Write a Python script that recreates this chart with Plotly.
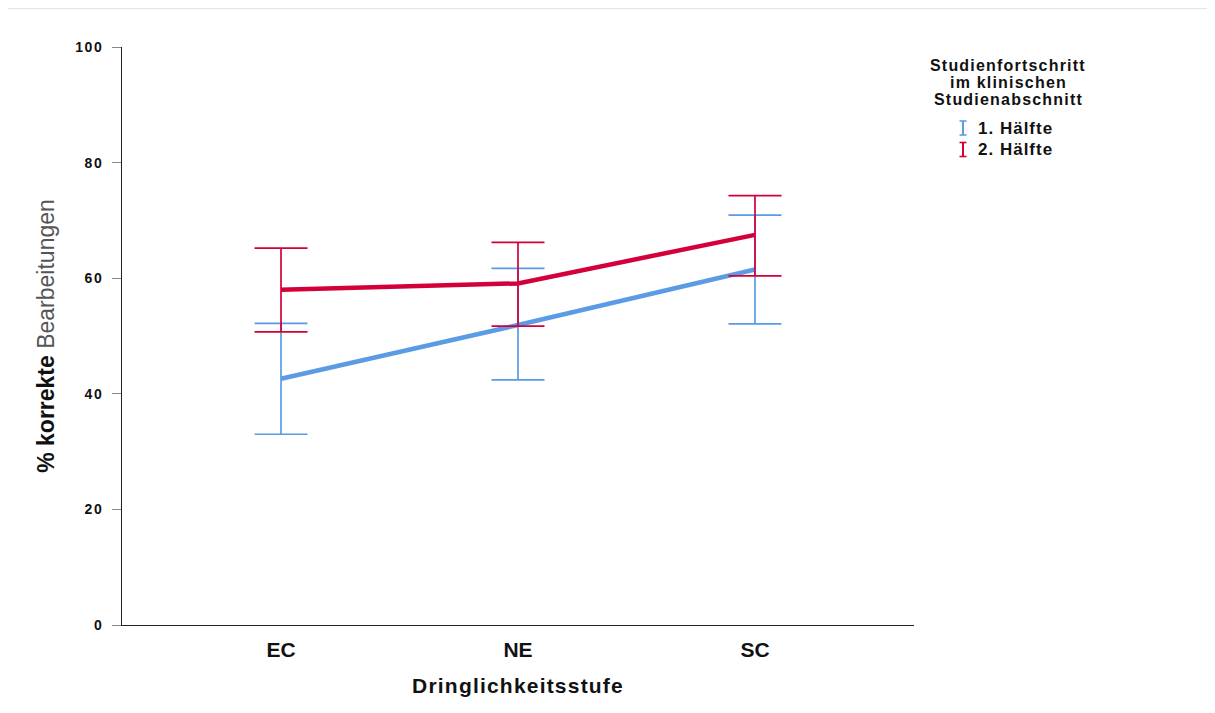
import plotly.graph_objects as go

categories = ["EC", "NE", "SC"]
series_names = ["1. Hälfte", "2. Hälfte"]
mean_1 = [42.6, 51.9, 61.5]
upper_1 = [52.2, 61.7, 70.9]
lower_1 = [33.0, 42.4, 52.1]
mean_2 = [58.0, 59.1, 67.5]
upper_2 = [65.2, 66.2, 74.3]
lower_2 = [50.7, 51.7, 60.4]
y_ticks = [0, 20, 40, 60, 80, 100]
legend_title_lines = ["Studienfortschritt", "im klinischen", "Studienabschnitt"]
x_title = "Dringlichkeitsstufe"

colors = ["#5B9BE6", "#D4003A"]
FONT = "Liberation Sans"


def spaced(s, px):
    return "<span style='letter-spacing:%spx'>%s</span>" % (px, s)


fig = go.Figure()
for name, m, up, lo, c in [
    (series_names[0], mean_1, upper_1, lower_1, colors[0]),
    (series_names[1], mean_2, upper_2, lower_2, colors[1]),
]:
    fig.add_trace(go.Scatter(
        x=categories, y=m, name=name, mode="lines",
        line=dict(color=c, width=4.5),
        error_y=dict(type="data", symmetric=False,
                     array=[u - v for u, v in zip(up, m)],
                     arrayminus=[v - l for v, l in zip(m, lo)],
                     color=c, thickness=1.7, width=26.5),
        showlegend=False,
    ))

W, H = 1199, 697
fig.update_layout(
    width=W, height=H,
    margin=dict(l=114, r=293, t=39, b=80),
    paper_bgcolor="white", plot_bgcolor="white",
    showlegend=False,
    font=dict(family=FONT, color="#111"),
)
fig.update_xaxes(
    type="category", range=[-0.671, 2.671],
    showline=True, linecolor="#222", linewidth=1,
    showgrid=False, ticks="", ticklabelstandoff=6,
    tickfont=dict(family=FONT, size=21, weight="bold", color="#111"),
    title=dict(text="<b>" + spaced(x_title, 1.2) + "</b>", standoff=18,
               font=dict(family=FONT, size=21, color="#111")),
)
fig.update_yaxes(
    range=[0, 100], tickvals=y_ticks,
    ticktext=["<b>" + spaced(str(t), 1.5) + "</b>" for t in y_ticks],
    showline=True, linecolor="#222", linewidth=1,
    showgrid=False, zeroline=False, ticks="outside", ticklen=9, tickcolor="#888",
    ticklabelstandoff=6,
    tickfont=dict(family=FONT, size=14, color="#111"),
    title=dict(text="<b>% korrekte</b> <span style='color:#555'>Bearbeitungen</span>",
               standoff=14,
               font=dict(family=FONT, size=23, color="#111")),
)


def px_x(page_x):
    return (page_x - 122) / 792


def px_y(page_y):
    return (625 - page_y) / 578


# legend as annotations + small error-bar glyphs
for line, yy in zip(legend_title_lines, [65, 82.5, 99.5]):
    fig.add_annotation(xref="paper", yref="paper", x=px_x(1008), y=px_y(yy),
                       xanchor="center", yanchor="middle",
                       text="<b>" + spaced(line, 1.2) + "</b>",
                       showarrow=False, align="center",
                       font=dict(family=FONT, size=16, color="#111"))
for name, c, yy in zip(series_names, colors, [128, 149.5]):
    gx, half_h, half_w = 963, 7, 3.5
    fig.add_shape(type="line", xref="paper", yref="paper",
                  x0=px_x(gx), x1=px_x(gx), y0=px_y(yy - half_h), y1=px_y(yy + half_h),
                  line=dict(color=c, width=2))
    for dy in (-half_h, half_h):
        fig.add_shape(type="line", xref="paper", yref="paper",
                      x0=px_x(gx - half_w), x1=px_x(gx + half_w),
                      y0=px_y(yy + dy), y1=px_y(yy + dy),
                      line=dict(color=c, width=1.6))
    fig.add_annotation(xref="paper", yref="paper", x=px_x(976), y=px_y(yy),
                       xanchor="left", yanchor="middle",
                       text="<b>" + spaced(name, 1.0) + "</b>", showarrow=False,
                       font=dict(family=FONT, size=17, color="#111"))

# faint outer frame
fig.add_shape(type="rect", xref="paper", yref="paper",
              x0=px_x(-4), x1=px_x(1240),
              y0=px_y(740), y1=px_y(8.5),
              line=dict(color="#E4E6E8", width=1.5), layer="below")

fig.write_html("out.html")
